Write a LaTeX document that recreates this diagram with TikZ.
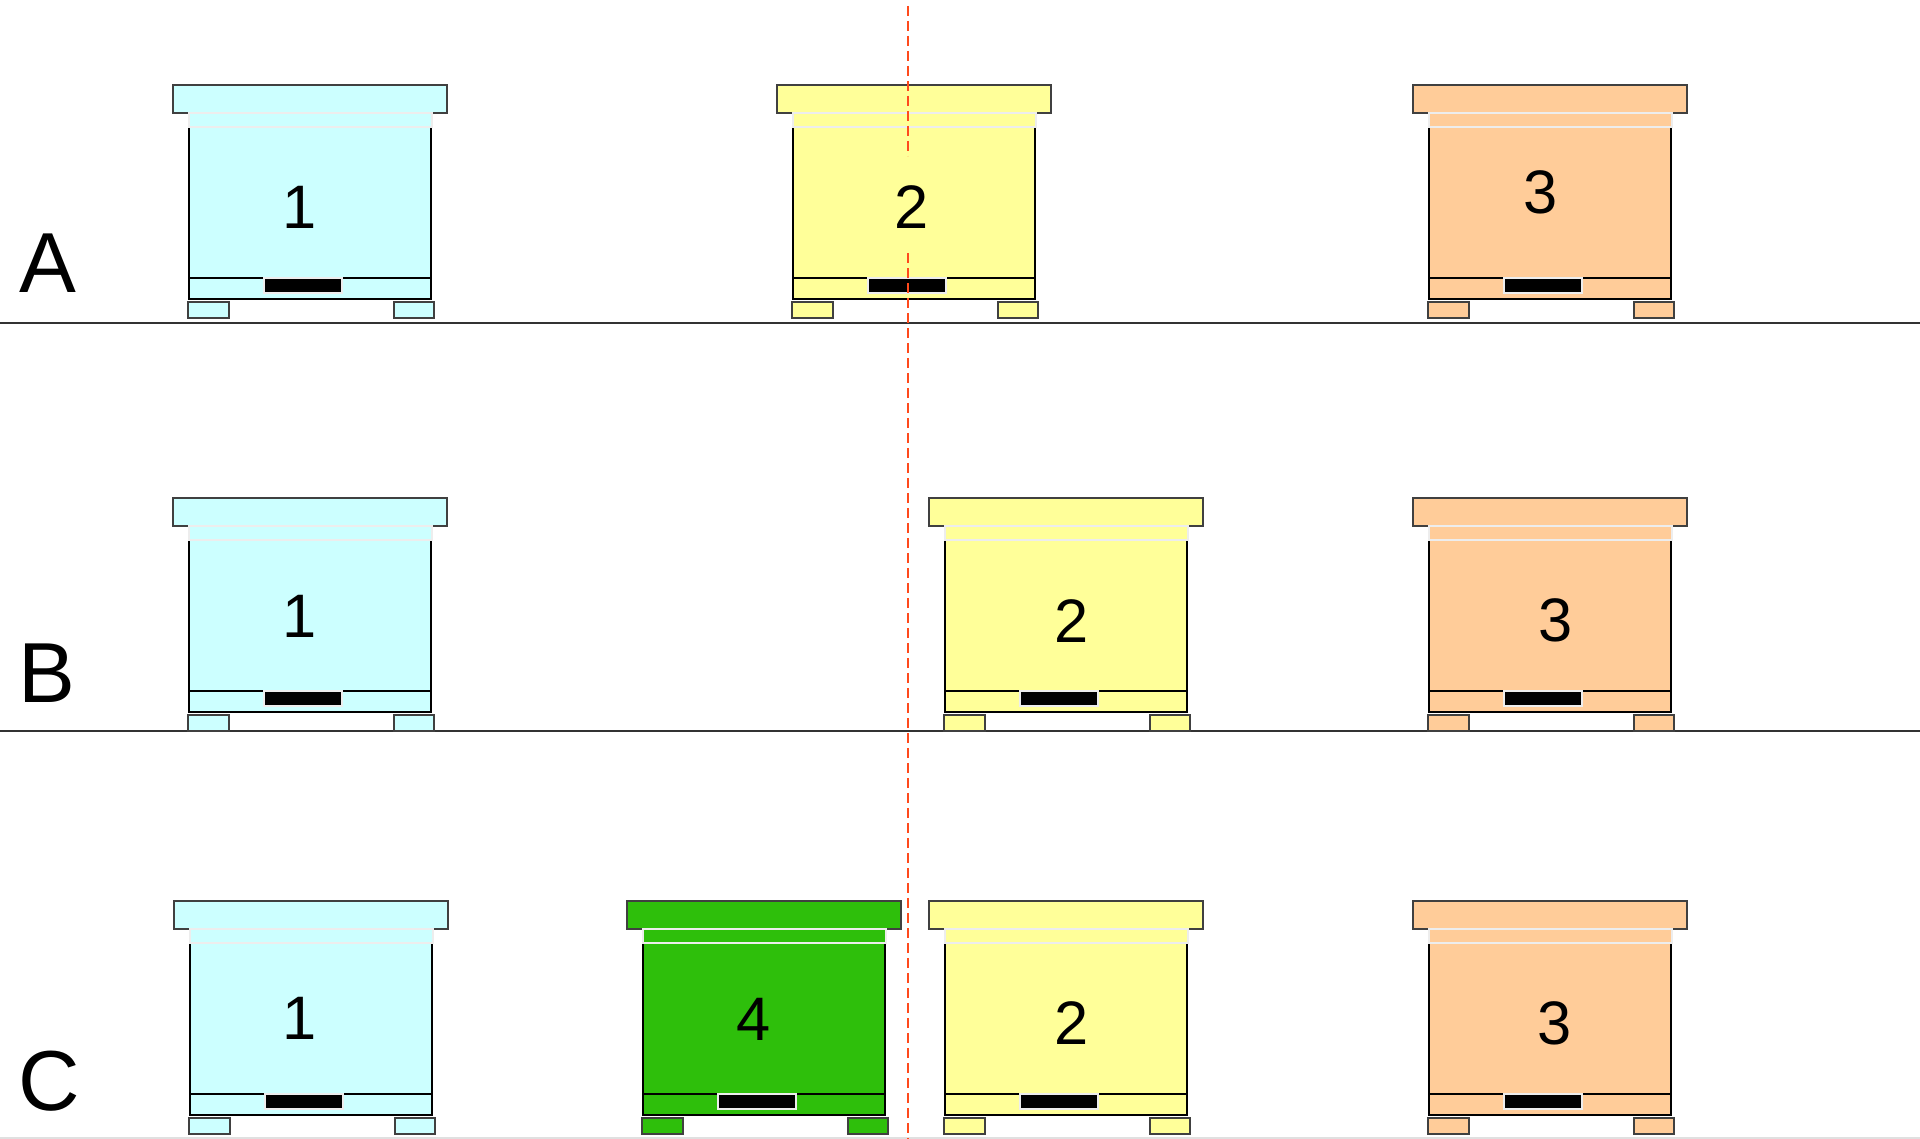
\documentclass[tikz,border=0pt]{standalone}
\usepackage{fontspec}
\setmainfont{Liberation Sans}

\definecolor{ciano}{HTML}{CCFFFF}
\definecolor{giallo}{HTML}{FFFF99}
\definecolor{pesca}{HTML}{FFCC99}
\definecolor{verde}{HTML}{2EBF0B}
\definecolor{rossoconf}{HTML}{FF4A1C}

\tikzset{
  tetto/.style={draw=black!75, line width=1pt},
  fascia/.style={draw=black!7, line width=1pt},
  corpo/.style={draw=black, line width=1pt},
  porticina/.style={fill=black, draw=black!7, line width=1pt},
  piede/.style={draw=black!75, line width=1pt},
  numero/.style={font=\fontsize{30.7}{36}\selectfont, inner sep=0pt},
  lettera/.style={font=\fontsize{42.6}{50}\selectfont, inner sep=0pt},
  terreno/.style={draw=black!80, line width=1pt},
  confine/.style={draw=rossoconf, line width=1pt, dash pattern=on 5pt off 2.5pt}
}

% Arnia: #1,#2 angolo del tetto, #3 colore
\newcommand{\arnia}[3]{%
  \begin{scope}[shift={(#1,#2)}]
    \filldraw[tetto, fill=#3] (0,0) rectangle (274,28);
    \filldraw[corpo, fill=#3] (16,42) rectangle (258,214);
    \draw[corpo] (16,193) -- (258,193);
    \filldraw[fascia, fill=#3] (16,28) rectangle (259,42);
    \filldraw[porticina] (91,193) rectangle (169,208);
    \filldraw[piede, fill=#3] (15,217) rectangle (56,233);
    \filldraw[piede, fill=#3] (221,217) rectangle (261,233);
  \end{scope}}

\begin{document}
\begin{tikzpicture}[x=0.5pt, y=-0.5pt]
    \useasboundingbox (0,0) rectangle (1920,1139);

    % Linee del terreno
    \draw[terreno] (0,323) -- (1920,323);
    \draw[terreno] (0,731) -- (1920,731);
    \draw[draw=black!12, line width=1pt] (0,1138) -- (1920,1138);

    % Arnie, riga A
    \arnia{173}{85}{ciano}
    \arnia{777}{85}{giallo}
    \arnia{1413}{85}{pesca}

    % Arnie, riga B
    \arnia{173}{498}{ciano}
    \arnia{929}{498}{giallo}
    \arnia{1413}{498}{pesca}

    % Arnie, riga C
    \arnia{174}{901}{ciano}
    \arnia{627}{901}{verde}
    \arnia{929}{901}{giallo}
    \arnia{1413}{901}{pesca}

    % Linea tratteggiata
    \coordinate (c1) at (908,6);
    \coordinate (c2) at (908,156);
    \coordinate (c3) at (908,253);
    \coordinate (c4) at (908,1139);
    \draw[confine] (c1) -- (c2);
    \draw[confine] (c3) -- (c4);

    % Numeri delle arnie
    \foreach \x/\y/\lab/\nome in {300/207/1/a1, 912/207/2/a2, 1541/192/3/a3,
                                  300/616/1/b1, 1072/621/2/b2, 1556/620/3/b3,
                                  300/1018/1/c1, 754/1019/4/c4, 1072/1023/2/c2, 1555/1023/3/c3} {
        \node[numero] (n\nome) at (\x,\y) {\lab};
    }

    % Lettere delle righe
    \node[lettera] (rA) at (48,263) {A};
    \node[lettera] (rB) at (47,673) {B};
    \node[lettera] (rC) at (49,1081) {C};
\end{tikzpicture}
\end{document}
